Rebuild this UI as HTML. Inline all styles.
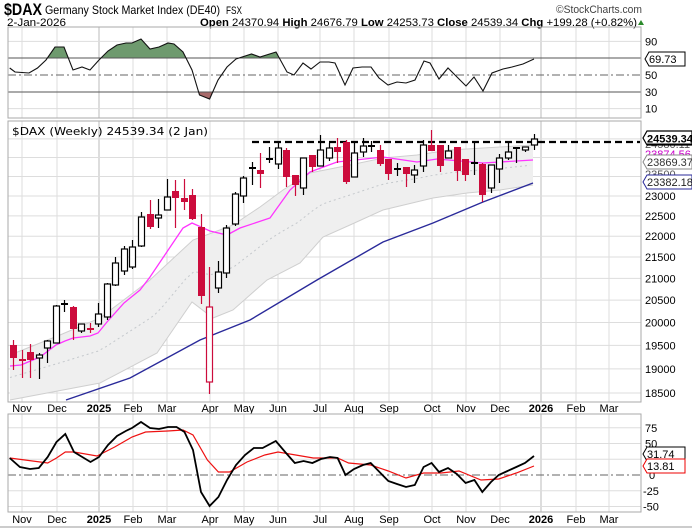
<!DOCTYPE html>
<html><head><meta charset="utf-8"><style>
html,body{margin:0;padding:0;background:#fff;}
svg{display:block;font-family:"Liberation Sans",Arial,sans-serif;}
</style></head><body>
<svg id="s" width="692" height="529" viewBox="0 0 692 529" xmlns="http://www.w3.org/2000/svg">
<rect width="692" height="529" fill="#fff"/>
<!-- header -->
<text x="4" y="15" font-size="17" font-weight="bold" textLength="38" lengthAdjust="spacingAndGlyphs">$DAX</text>
<text x="45" y="14" font-size="12" textLength="175" lengthAdjust="spacingAndGlyphs">Germany Stock Market Index (DE40)</text>
<text x="226" y="14" font-size="11" textLength="16" lengthAdjust="spacingAndGlyphs">FSX</text>
<text x="556" y="13" font-size="11" fill="#444" textLength="86" lengthAdjust="spacingAndGlyphs">©StockCharts.com</text>
<text x="7" y="26" font-size="11" textLength="59" lengthAdjust="spacingAndGlyphs">2-Jan-2026</text>
<text x="200" y="26" font-size="11" textLength="437" lengthAdjust="spacingAndGlyphs"><tspan font-weight="bold">Open</tspan> 24370.94 <tspan font-weight="bold">High</tspan> 24676.79 <tspan font-weight="bold">Low</tspan> 24253.73 <tspan font-weight="bold">Close</tspan> 24539.34 <tspan font-weight="bold">Chg</tspan> +199.28 (+0.82%)</text>
<path d="M638 25 l3 -5 l3 5z" fill="#2a8a2a"/>
<g id="grid"></g>
<g id="content"></g>
</svg>
<script>
const NS="http://www.w3.org/2000/svg";
const g=document.getElementById('content'), gr=document.getElementById('grid');
function el(t,a,p){const e=document.createElementNS(NS,t);for(const k in a)e.setAttribute(k,a[k]);(p||g).appendChild(e);return e;}
function txt(x,y,s,a,p){const e=el('text',Object.assign({x:x,y:y,'font-size':11},a||{}),p);e.textContent=s;return e;}
const L=8,R=641;
const months=[[22,'Nov'],[57,'Dec'],[99,'2025',1],[133,'Feb'],[167,'Mar'],[210,'Apr'],[244,'May'],[278,'Jun'],[320,'Jul'],[354,'Aug'],[389,'Sep'],[432,'Oct'],[466,'Nov'],[500,'Dec'],[541,'2026',1],[576,'Feb'],[609,'Mar']];
// panels
const panels=[[27,118],[121,402],[414,512]];
panels.forEach(([t,b])=>{
  months.forEach(m=>el('line',{x1:m[0],x2:m[0],y1:t,y2:b,stroke:m[2]?'#bbb':'#ddd','stroke-width':1},gr));
});
// top RSI gridlines
const ry=v=>75-(v-50)*0.84;
[10,90].forEach(v=>el('line',{x1:L,x2:R,y1:ry(v),y2:ry(v),stroke:'#ddd'},gr));
// main gridlines
const py=p=>196-905*(Math.log(p)-Math.log(23000));
for(let p=18500;p<=24500;p+=500){el('line',{x1:L,x2:R,y1:py(p),y2:py(p),stroke:'#ddd'},gr);}
// bottom gridlines
const my=v=>475-v*0.63;
[-50,-25,25,50,75].forEach(v=>el('line',{x1:L,x2:R,y1:my(v),y2:my(v),stroke:'#ddd'},gr));

// RSI
const rsi=[[9.7,68],[15,72],[29,73],[37.5,68],[46,60],[55,47],[64,47],[73,70],[82,67],[90,70],[99,60],[108,51],[117,45],[126,43],[132,43],[141,39],[150,49],[159,47],[168,43],[174,44],[183,52],[192,70],[199.5,95],[209.6,99],[218,80],[227,67],[236,59],[251.5,54],[260,57],[276,52],[287,72],[294,75],[303,63],[311,69],[320,62],[329,62],[335,63],[345,85],[353,68],[362,67],[371,67],[379,78],[388,85],[397,82],[406,83],[415,80],[424,61],[430,63],[439,79],[448,68],[457,77],[466,86],[474,77],[483,91],[492,73],[503,69],[512,67],[523,64],[534,59]];
const pts=a=>a.map(p=>p[0]+','+p[1]).join(' ');
el('clipPath',{id:'ca'}).appendChild(Object.assign(document.createElementNS(NS,'rect'),{}));
document.querySelector('#ca rect').setAttribute('x',0);document.querySelector('#ca rect').setAttribute('y',0);document.querySelector('#ca rect').setAttribute('width',692);document.querySelector('#ca rect').setAttribute('height',58);
el('clipPath',{id:'cb'}).appendChild(document.createElementNS(NS,'rect'));
const cb=document.querySelector('#cb rect');cb.setAttribute('x',0);cb.setAttribute('y',92);cb.setAttribute('width',692);cb.setAttribute('height',40);
const poly='M'+rsi[0][0]+',58 L'+pts(rsi).replace(/ /g,' L')+' L534,58 Z';
el('path',{d:'M9.7,58 L'+rsi.map(p=>p[0]+','+p[1]).join(' L')+' L534,58 Z',fill:'#6e9a6e','clip-path':'url(#ca)'});
el('path',{d:'M9.7,92 L'+rsi.map(p=>p[0]+','+p[1]).join(' L')+' L534,92 Z',fill:'#a86a6a','clip-path':'url(#cb)'});
el('line',{x1:L,x2:R,y1:58,y2:58,stroke:'#555'});
el('line',{x1:L,x2:R,y1:92,y2:92,stroke:'#555'});
el('line',{x1:L,x2:R,y1:75,y2:75,stroke:'#666','stroke-dasharray':'8,3,2,3'});
el('polyline',{points:pts(rsi),fill:'none',stroke:'#111','stroke-width':1.1});
[[90,'90'],[50,'50'],[30,'30'],[10,'10']].forEach(v=>txt(645,ry(v[0])+4,v[1]));
el('path',{d:'M645,59 l4,-7 h36 v14 h-36z',fill:'#fff',stroke:'#000'});
txt(649,63,'69.73');

// main: band
const up=[[10,355],[60,335],[100,318],[150,280],[193,240],[233,225],[260,207],[283,190],[310,173],[350,165],[383,158],[417,155],[450,150],[483,148],[533,145]];
const lo=[[10,400],[100,383],[157,353],[192,302],[213,318],[233,310],[267,280],[300,263],[323,237],[350,225],[383,210],[433,198],[467,193],[500,190],[533,185]];
el('path',{d:'M'+up.map(p=>p.join(',')).join(' L')+' L'+lo.slice().reverse().map(p=>p.join(',')).join(' L')+'Z',fill:'#efefef',stroke:'none'});
el('polyline',{points:pts(up),fill:'none',stroke:'#cfcfcf'});
el('polyline',{points:pts(lo),fill:'none',stroke:'#cfcfcf'});
function interp(a,x){for(let i=0;i<a.length-1;i++){if(x>=a[i][0]&&x<=a[i+1][0]){const t=(x-a[i][0])/(a[i+1][0]-a[i][0]);return a[i][1]+t*(a[i+1][1]-a[i][1]);}}return a[a.length-1][1];}
const mid=[];for(let x=10;x<=533;x+=8){mid.push([x,(interp(up,x)+interp(lo,x))/2]);}
el('polyline',{points:pts(mid),fill:'none',stroke:'#c4c8cc','stroke-dasharray':'2,3'});
// blue
el('polyline',{points:pts([[66,400],[130,378],[200,340],[250,320],[317,280],[383,242],[433,223],[483,202],[533,183]]),fill:'none',stroke:'#2a2a9a','stroke-width':1.4});
// magenta
el('polyline',{points:pts([[10,366],[21,365],[40,357],[56,345],[65,341],[73,338],[90,336],[98,333],[107,322],[124,303],[140,290],[150,277],[183,228],[192,223],[210,231],[227,235],[240,228],[270,218],[290,190],[310,172],[337,162],[383,157],[417,162],[437,159],[483,163],[533,160]]),fill:'none',stroke:'#ff33ff','stroke-width':1.3});
// dashed resistance
el('line',{x1:252,x2:640,y1:142,y2:142,stroke:'#000','stroke-width':2.2,'stroke-dasharray':'7,4'});
// candles
const C=[[345,358,340,370,'r'],[359,360,350,378,'r'],[352,360,344,378,'r'],[355,358,353,379,'w'],[341,348,340,363,'w'],[306,343,305,343,'w'],[303,305,300,312,'k'],[307,329,306,340,'r'],[324,331,324,333,'w'],[328,329,323,333,'r'],[314,324,303,327,'w'],[284,317,283,320,'w'],[263,285,257,286,'w'],[249,271,246,275,'w'],[247,267,240,269,'w'],[217,246,212,247,'w'],[214,227,200,229,'r'],[215,218,199,228,'w'],[197,210,179,210,'w'],[191,198,180,228,'r'],[198,202,179,210,'r'],[195,219,189,220,'r'],[227,296,214,304,'r'],[307,382,267,394,'rh'],[272,288,261,293,'w'],[228,273,225,278,'w'],[194,224,192,226,'w'],[178,196,176,203,'w'],[167,169,162,185,'k'],[170,174,153,188,'r'],[158,160,147,163,'k'],[148,164,143,169,'w'],[150,177,148,187,'r'],[175,185,175,196,'r'],[158,188,158,195,'w'],[155,167,155,172,'r'],[150,166,135,166,'w'],[148,158,143,161,'w'],[147,152,138,163,'r'],[142,182,140,184,'r'],[153,177,143,177,'w'],[146,152,138,157,'w'],[145,147,141,152,'k'],[150,164,145,166,'r'],[159,174,159,180,'r'],[168,170,163,176,'k'],[167,174,167,187,'r'],[170,175,165,183,'w'],[145,166,140,172,'w'],[145,151,130,151,'r'],[145,166,145,172,'r'],[151,158,145,158,'w'],[147,171,147,181,'r'],[159,175,159,181,'r'],[162,164,142,175,'k'],[164,195,163,202,'r'],[165,188,165,193,'w'],[158,169,154,183,'w'],[152,158,143,160,'w'],[147,149,147,163,'k'],[147,150,147,152,'w'],[139,145,134,150,'w']];
C.forEach((c,i)=>{
  const x=Math.round(13+i*8.533)+0.5;
  const [t,b,h,l,ty]=c;
  const col=(ty=='r'||ty=='rh')?'#cc0c3c':'#000';
  el('line',{x1:x,x2:x,y1:h,y2:l,stroke:col,'stroke-width':1.2});
  const hgt=Math.max(b-t,2);
  if(ty=='w'||ty=='rh') el('rect',{x:x-3,y:t,width:6,height:hgt,fill:'#fff',stroke:col,'stroke-width':1.2});
  else el('rect',{x:x-3.5,y:t,width:7,height:hgt,fill:col});
});
// main label
txt(12,135,'$DAX (Weekly) 24539.34 (2 Jan)',{'font-size':11,textLength:196,lengthAdjust:'spacingAndGlyphs','font-family':'DejaVu Sans'});
el('rect',{x:4,y:127,width:8,height:8,fill:'#fff'});
// right axis labels main
for(let p=18500;p<=23000;p+=500) txt(645,py(p)+4,String(p));
txt(645,178,'23500',{fill:'#555'});
txt(645,148,'24580.11',{fill:'#555'});
txt(645,158,'23874.56',{fill:'#c0c'});
el('path',{d:'M643,162 l4,-7 h45 v14 h-45z',fill:'#fff',stroke:'#888'});
txt(647,166,'23869.37',{fill:'#333'});
el('path',{d:'M643,182 l4,-7 h45 v14 h-45z',fill:'#fff',stroke:'#2a2a9a'});
txt(647,186,'23382.18',{fill:'#222'});
el('path',{d:'M643,138 l4,-7 h45 v14 h-45z',fill:'#fff',stroke:'#000','stroke-width':1.2});
txt(647,142.5,'24539.34',{'font-weight':'bold','text-decoration':'underline'});
// month labels
[[408],[519]].forEach(([y])=>months.forEach(m=>{txt(m[0],y+4,m[1],{'text-anchor':'middle','font-weight':m[2]?'bold':'normal'});}));
// bottom
el('line',{x1:L,x2:R,y1:475,y2:475,stroke:'#666','stroke-dasharray':'8,3,2,3'});
const red=[[9.7,458],[47.7,463],[56.5,458],[65.3,452],[74,452],[97,456],[114.7,447],[132,437],[145.6,432],[167.7,431],[183,430],[193,435],[207.4,460],[218.4,472],[229.5,472],[247,462],[264.8,455],[278,452],[295.7,455],[313.3,458],[337.6,458],[348.6,463],[370.7,465],[388.3,471],[406,478],[423.6,473],[441,473],[459,471],[481,480],[498.7,479],[516.3,473],[534,466]];
const blk=[[9.7,458],[19.9,467],[30,469],[38.8,468],[47.7,457],[56.5,442],[65.3,434],[74,452],[90.5,462],[99,457],[108,445],[117,436],[125.8,431],[132,428],[141,422],[150,428],[159,429],[168,427],[176.5,427],[184.5,432],[193,450],[201,492],[209.6,506],[218.4,497],[227,480],[236,465],[245,455],[253.8,448],[262.6,448],[275.8,441],[286,453],[294.8,463],[303.6,461],[312.4,463],[321,459],[330,457],[337.6,458],[345.5,475],[354,469],[363,465],[370.7,463],[379.5,472],[388.3,481],[397,484],[406,487],[414.8,485],[423.6,467],[431.6,463],[439,472],[448,468],[456.8,474],[465.6,483],[474.4,480],[482.3,492],[491,482],[498.7,475],[507.5,471],[516.3,467],[525,463],[534,456]];
el('polyline',{points:pts(red),fill:'none',stroke:'#ee1111','stroke-width':1.2});
el('polyline',{points:pts(blk),fill:'none',stroke:'#000','stroke-width':1.8});
[[75,'75'],[50,'50'],[0,'0'],[-25,'-25'],[-50,'-50']].forEach(v=>txt(v[0]<0?643:(v[0]==0?649:645),my(v[0])+4,v[1]));
el('path',{d:'M643,454 l4,-7 h38 v14 h-38z',fill:'#fff',stroke:'#000'});
txt(647,458,'31.74');
el('path',{d:'M643,466 l4,-7 h38 v14 h-38z',fill:'#fff',stroke:'#e00'});
txt(647,470,'13.81');
// frames
panels.forEach(([t,b])=>el('rect',{x:L,y:t,width:R-L,height:b-t,fill:'none',stroke:'#aaa'}));
el('line',{x1:0,x2:692,y1:527,y2:527,stroke:'#999'});
</script>
</body></html>
